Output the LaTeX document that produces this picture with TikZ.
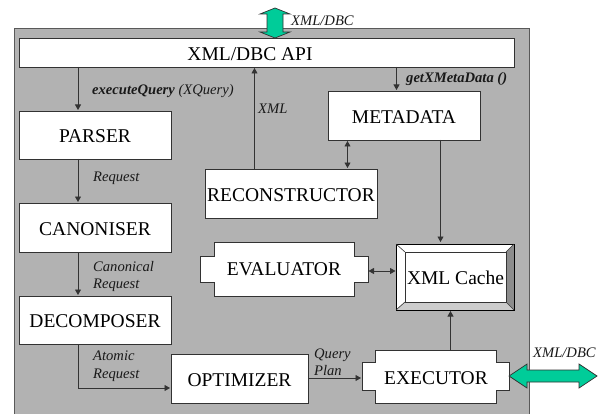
\documentclass[tikz,border=0pt]{standalone}
\usepackage{fontspec}
\setmainfont{Liberation Serif}
\usetikzlibrary{arrows.meta}
\definecolor{panel}{RGB}{178,178,178}
\definecolor{arrowgreen}{RGB}{0,204,153}
\definecolor{edge}{RGB}{50,50,50}
\tikzset{x=1pt,y=-1pt,
  boxnode/.style={draw=edge,fill=white,line width=0.8pt,minimum width=0pt,inner sep=0pt},
  boxtext/.style={font=\fontsize{19.5}{20}\selectfont,inner sep=0pt,anchor=center},
  lab/.style={font=\itshape\fontsize{14.6}{17.5}\selectfont,inner sep=0pt,anchor=west,align=left,text=black!90},
  conn/.style={draw=black!80,line width=0.8pt,-{Triangle[length=5.5pt,width=6pt]}},
  conn2/.style={draw=black!80,line width=0.8pt,{Triangle[length=5.5pt,width=6pt]}-{Triangle[length=5.5pt,width=6pt]}},
  bigarrow/.style={draw=edge,fill=arrowgreen,line width=0.7pt}}
\newcommand{\rectbox}[6]{% name, x1, y1, x2, y2, text
  \path[boxnode,draw] (#2,#3) rectangle (#4,#5);
  \node[boxtext] (#1) at ({(#2+#4)/2},{(#3+#5)/2+1.5}) {#6};}
\begin{document}
\begin{tikzpicture}
\useasboundingbox (0,0) rectangle (604,414);
\fill[white] (0,0) rectangle (604,414);
\draw[fill=panel,draw=black!65,line width=0.8pt] (14,28) rectangle (529,420);
\path[boxnode,draw] (19,38) rectangle (514,67);
\node[boxtext] (api) at (250,54.5) {XML/DBC API};
\rectbox{parser}{19}{111}{171}{159}{PARSER}
\rectbox{canon}{19}{203}{171}{252}{CANONISER}
\rectbox{decomp}{19}{296}{171}{344}{DECOMPOSER}
\rectbox{optim}{171}{354}{308}{403}{OPTIMIZER}
\rectbox{meta}{328}{91}{480}{140}{METADATA}
\rectbox{recon}{205}{169}{377}{218}{RECONSTRUCTOR}
% notched shapes
\draw[boxnode] (214,242)--(354,242)--(354,256)--(368,256)--(368,282)--(354,282)--(354,296)--(214,296)--(214,282)--(200,282)--(200,256)--(214,256)--cycle;
\node[boxtext] (eval) at (284,269) {EVALUATOR};
\draw[boxnode] (375,350)--(496,350)--(496,362)--(509,362)--(509,390)--(496,390)--(496,403)--(375,403)--(375,390)--(362,390)--(362,362)--(375,362)--cycle;
\node[boxtext] (exec) at (436,378) {EXECUTOR};
% cache bevel
\fill[white] (396,244) rectangle (514,310);
\fill[black!45] (514,244)--(506,252)--(506,302)--(514,310)--cycle;
\fill[black!20] (396,310)--(405,302)--(506,302)--(514,310)--cycle;
\draw[black,line width=0.9pt] (396,244) rectangle (514,310);
\draw[black!80,line width=0.8pt] (405,252) rectangle (506,302);
\draw[black!80,line width=0.6pt] (396,244)--(405,252) (514,244)--(506,252) (396,310)--(405,302) (514,310)--(506,302);
\node[boxtext] (cache) at (455.5,278) {XML Cache};
% connectors
\draw[conn] (78,67)--(78,110);
\draw[conn] (78,159)--(78,202);
\draw[conn] (78,252)--(78,295);
\draw[conn] (78,344)--(78,388)--(170,388);
\draw[conn] (308,378)--(361,378);
\draw[conn] (254.5,169)--(254.5,68);
\draw[conn] (396.5,67)--(396.5,90);
\draw[conn2] (347.5,141)--(347.5,168);
\draw[conn] (440.5,140)--(440.5,242);
\draw[conn2] (368.5,271)--(395.5,271);
\draw[conn] (450.5,350)--(450.5,311);
% big arrows
\draw[bigarrow] (275,8)--(290,14)--(283,14)--(283,32)--(290,32)--(275,38)--(260,32)--(267,32)--(267,14)--(260,14)--cycle;
\draw[bigarrow] (509,376)--(527,364)--(527,370)--(579,370)--(579,364)--(597,376)--(579,388)--(579,382)--(527,382)--(527,388)--cycle;
% labels
\node[lab] at (291,21) {XML/DBC};
\node[lab] at (92,91) {\textbf{executeQuery} (XQuery)};
\node[lab] at (258,109) {XML};
\node[lab] at (406,79) {\textbf{getXMetaData ()}};
\node[lab] at (93,178) {Request};
\node[lab] at (93,276.5) {Canonical\\Request};
\node[lab] at (93,366) {Atomic\\Request};
\node[lab] at (314,362) {Query\\Plan};
\node[lab] at (533,353) {XML/DBC};
\end{tikzpicture}
\end{document}
